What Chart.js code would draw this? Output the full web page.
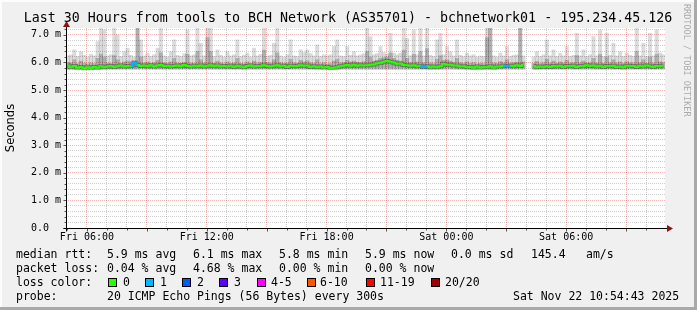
<!DOCTYPE html>
<html>
<head>
<meta charset="utf-8">
<script src="https://cdn.jsdelivr.net/npm/chart.js@4.4.1/dist/chart.umd.min.js"></script>
<style>
  html, body { margin: 0; padding: 0; background: #f0f0f0; }
  #wrap { position: relative; width: 697px; height: 310px; }
</style>
</head>
<body>
<div id="wrap"><canvas id="smoke"></canvas></div>
<script>
// one slot every 10 minutes, x is hours since Fri 00:00
const START_HOUR = 4.95;
const SLOT_HOURS = 1 / 6;

// median rtt per slot (ms)
const medianRtt = [
  5.89, 5.83, 5.87, 5.81, 5.84, 5.79, 5.83, 5.80, 5.84, 5.81,
  5.86, 5.83, 5.85, 5.87, 5.84, 5.86, 5.89, 5.85, 5.87, 5.86,
  5.99, 5.91, 5.87, 5.89, 5.86, 5.90, 5.85, 5.89, 5.91, 5.86,
  5.88, 5.85, 5.87, 5.89, 5.86, 5.91, 5.87, 5.85, 5.88, 5.86,
  5.89, 5.85, 5.88, 5.90, 5.86, 5.89, 5.85, 5.87, 5.85, 5.88,
  5.84, 5.88, 5.85, 5.83, 5.87, 5.89, 5.85, 5.87, 5.86, 5.90,
  5.87, 5.85, 5.88, 5.90, 5.86, 5.88, 5.84, 5.88, 5.86, 5.87,
  5.90, 5.88, 5.89, 5.84, 5.86, 5.83, 5.85, 5.82, 5.84, 5.80,
  5.81, 5.83, 5.86, 5.88, 5.91, 5.88, 5.92, 5.88, 5.90, 5.89,
  5.90, 5.92, 5.93, 5.97, 5.99, 6.03, 6.05, 6.03, 6.00, 5.95,
  5.96, 5.91, 5.90, 5.88, 5.90, 5.86, 5.88, 5.84, 5.86, 5.83,
  5.85, 5.83, 5.86, 5.95, 5.92, 5.92, 5.89, 5.89, 5.85, 5.86,
  5.83, 5.84, 5.81, 5.85, 5.82, 5.84, 5.83, 5.86, 5.82, 5.85,
  5.85, 5.88, 5.87, 5.88, 5.86, 5.90, 5.87, 5.92, null, null,
  5.87, 5.83, 5.85, 5.84, 5.86, 5.84, 5.87, 5.85, 5.88, 5.84,
  5.87, 5.86, 5.88, 5.84, 5.87, 5.86, 5.90, 5.87, 5.89, 5.85,
  5.88, 5.84, 5.87, 5.86, 5.88, 5.84, 5.85, 5.83, 5.88, 5.86,
  5.87, 5.84, 5.88, 5.85, 5.89, 5.86, 5.84, 5.87, 5.86, 5.88
];

// highest ping per slot (light smoke top)
const smokeMax = [
  6.24, 6.28, 6.46, 6.22, 6.39, 6.26, 6.20, 6.30, 6.24, 6.76,
  7.24, 7.18, 6.24, 6.28, 7.24, 7.00, 6.22, 6.39, 6.52, 6.26,
  6.20, 7.25, 6.82, 6.24, 6.34, 6.22, 6.28, 6.52, 7.24, 6.24,
  6.20, 6.39, 6.82, 6.26, 6.22, 6.32, 7.18, 6.24, 6.28, 7.24,
  6.70, 6.24, 7.25, 7.25, 6.22, 6.46, 6.26, 6.20, 6.39, 6.24,
  6.28, 6.82, 6.22, 6.26, 6.34, 6.20, 6.52, 6.24, 6.30, 7.25,
  6.22, 6.26, 6.70, 7.25, 6.24, 6.20, 6.28, 6.82, 6.24, 6.22,
  6.46, 6.36, 6.46, 6.32, 6.24, 6.64, 6.22, 6.28, 6.24, 6.28,
  6.58, 6.82, 6.24, 6.22, 6.58, 6.26, 6.39, 6.24, 6.28, 6.32,
  7.24, 6.94, 6.28, 6.32, 6.58, 6.36, 6.30, 7.06, 6.34, 6.28,
  6.34, 7.24, 6.88, 6.24, 7.18, 6.28, 7.24, 6.24, 7.24, 6.26,
  6.22, 6.82, 7.06, 6.28, 6.58, 6.39, 6.24, 6.82, 6.26, 6.22,
  6.34, 6.24, 6.28, 6.20, 6.24, 6.22, 7.24, 7.24, 6.24, 6.20,
  6.34, 6.24, 6.58, 6.22, 6.26, 6.28, 7.30, 6.24, null, null,
  6.20, 6.39, 6.22, 6.28, 6.82, 6.24, 6.46, 6.22, 6.34, 6.24,
  6.58, 6.22, 6.26, 7.06, 6.24, 6.46, 6.22, 6.28, 6.94, 6.24,
  7.18, 6.22, 7.06, 6.26, 6.70, 6.24, 6.39, 6.22, 6.34, 6.26,
  6.22, 7.24, 6.24, 6.70, 6.22, 7.06, 6.24, 7.18, 6.34, 6.28
];

// top of the denser (darker) smoke per slot
const smokeMid = [
  6.00, 5.98, 6.10, 5.96, 6.05, 5.97, 5.95, 5.98, 5.96, 6.15,
  6.30, 6.20, 5.98, 5.97, 6.25, 6.10, 5.97, 6.02, 6.05, 5.98,
  6.06, 7.25, 6.20, 5.98, 6.02, 5.97, 5.99, 6.08, 6.35, 5.99,
  5.97, 6.02, 6.15, 5.98, 5.97, 6.00, 6.30, 5.98, 5.97, 6.40,
  6.10, 5.98, 6.90, 6.40, 5.97, 6.05, 5.98, 5.96, 6.02, 5.97,
  5.98, 6.15, 5.97, 5.96, 6.02, 5.97, 6.05, 5.98, 6.00, 6.45,
  6.00, 5.98, 6.10, 6.35, 5.99, 5.97, 5.98, 6.12, 5.99, 5.97,
  6.08, 6.02, 6.06, 5.99, 5.97, 6.10, 5.96, 5.99, 5.95, 5.96,
  6.05, 6.12, 5.98, 6.00, 6.08, 6.02, 6.05, 6.01, 6.00, 6.03,
  6.40, 6.20, 6.05, 6.08, 6.15, 6.18, 6.20, 6.35, 6.15, 6.08,
  6.05, 6.45, 6.15, 6.00, 6.30, 6.02, 6.40, 5.99, 6.50, 5.98,
  5.96, 6.12, 6.25, 6.08, 6.10, 6.05, 6.00, 6.15, 5.99, 5.97,
  6.02, 5.97, 5.99, 5.95, 5.97, 5.96, 6.90, 7.24, 5.98, 5.97,
  6.03, 5.99, 6.10, 5.98, 5.99, 6.01, 7.30, 6.02, null, null,
  5.97, 6.04, 5.96, 5.99, 6.12, 5.98, 6.05, 5.97, 6.02, 5.98,
  6.08, 5.98, 5.99, 6.25, 5.99, 6.05, 5.98, 5.99, 6.15, 5.98,
  6.30, 5.97, 6.20, 5.99, 6.10, 5.98, 6.02, 5.96, 6.03, 5.99,
  5.98, 6.40, 5.99, 6.10, 5.97, 6.20, 5.98, 6.30, 6.02, 6.00
];

const SMOKE_FLOOR = 5.74;
const SMOKE_MID_FLOOR = 5.79;

// slots where pings were lost, and how many of 20
const lossSlots = [20, 107, 132];
const lossPings = [1, 1, 1];

const xLabelHours = [6, 12, 18, 24, 30];
const xLabels = ['Fri 06:00', 'Fri 12:00', 'Fri 18:00', 'Sat 00:00', 'Sat 06:00'];
const yLabelValues = [0, 1, 2, 3, 4, 5, 6, 7];
const yLabels = ['0.0  ', '1.0 m', '2.0 m', '3.0 m', '4.0 m', '5.0 m', '6.0 m', '7.0 m'];

const lossNames = ['0', '1', '2', '3', '4-5', '6-10', '11-19', '20/20'];
const lossColors = ['#26ff00', '#00b8ff', '#0059ff', '#5e00ff', '#ff00ff', '#ff5500', '#ff0000', '#a10000'];

const statRows = [
  ['median rtt:', '5.9 ms avg', '6.1 ms max', '5.8 ms min', '5.9 ms now', '0.0 ms sd', '145.4', 'am/s'],
  ['packet loss:', '0.04 % avg', '4.68 % max', '0.00 % min', '0.00 % now']
];
const probeText = ['probe:', '20 ICMP Echo Pings (56 Bytes) every 300s', 'Sat Nov 22 10:54:43 2025'];
const titleText = 'Last 30 Hours from tools to BCH Network (AS35701) - bchnetwork01 - 195.234.45.126';

const MONO = '"DejaVu Sans Mono", "Liberation Mono", monospace';

function slotHour(i) {
  return START_HOUR + (i + 0.5) * SLOT_HOURS;
}

function lossAt(i) {
  const k = lossSlots.indexOf(i);
  return k >= 0 ? lossPings[k] : 0;
}

function lossColor(n) {
  if (n <= 0) return lossColors[0];
  if (n <= 3) return lossColors[n];
  if (n <= 5) return lossColors[4];
  if (n <= 10) return lossColors[5];
  if (n <= 19) return lossColors[6];
  return lossColors[7];
}

const medianPoints = medianRtt.map((v, i) => ({ x: slotHour(i), y: v }));
const lightSmoke = smokeMax.map((v, i) => ({ x: slotHour(i), y: v == null ? null : [SMOKE_FLOOR, v] }));
const midSmoke = smokeMid.map((v, i) => ({ x: slotHour(i), y: v == null ? null : [SMOKE_MID_FLOOR, v] }));

// grid positions: every hour / every 0.2 ms
const xGrid = [];
for (let h = 5; h <= 34; h++) xGrid.push(h);
const yGrid = [];
for (let k = 0; k <= 36; k++) yGrid.push(k / 5);

const MAJOR = 'rgba(230, 80, 80, 0.42)';
const MINOR = 'rgba(110, 110, 110, 0.32)';

function isWhole(v) {
  return Math.abs(v - Math.round(v)) < 1e-6;
}

// frame, title, axes with arrows, and the smokeping legend block
const rrdDecor = {
  id: 'rrdDecor',
  beforeDraw(chart) {
    const ctx = chart.ctx;
    const a = chart.chartArea;
    ctx.save();
    ctx.fillStyle = '#f0f0f0';
    ctx.fillRect(0, 0, 697, 310);
    ctx.fillStyle = '#fdfdfd';
    ctx.fillRect(0, 0, 697, 2);
    ctx.fillRect(0, 0, 2, 310);
    ctx.fillStyle = '#a9a9a9';
    ctx.fillRect(0, 307, 697, 3);
    ctx.fillRect(694, 0, 3, 310);
    ctx.fillStyle = '#ffffff';
    ctx.fillRect(a.left, a.top, a.right - a.left, a.bottom - a.top);
    ctx.restore();
  },
  afterDraw(chart) {
    const ctx = chart.ctx;
    const a = chart.chartArea;
    const xs = chart.scales.x;
    const ys = chart.scales.y;
    const x0 = Math.round(a.left) + 0.5;
    const y0 = Math.round(a.bottom) + 0.5;
    ctx.save();

    // tick marks
    ctx.strokeStyle = '#555';
    ctx.lineWidth = 1;
    ctx.beginPath();
    yGrid.forEach(v => {
      const y = Math.round(ys.getPixelForValue(v)) + 0.5;
      ctx.moveTo(x0 - (isWhole(v) ? 3 : 2), y);
      ctx.lineTo(x0, y);
    });
    xGrid.forEach(h => {
      const x = Math.round(xs.getPixelForValue(h)) + 0.5;
      ctx.moveTo(x, y0);
      ctx.lineTo(x, y0 + (h % 3 === 0 ? 3 : 2));
    });
    ctx.stroke();

    // axes
    ctx.strokeStyle = '#000';
    ctx.beginPath();
    ctx.moveTo(x0 - 3, y0);
    ctx.lineTo(a.right + 5, y0);
    ctx.moveTo(x0, y0 + 3);
    ctx.lineTo(x0, a.top - 4);
    ctx.stroke();

    // arrows
    ctx.fillStyle = '#8c1414';
    ctx.beginPath();
    ctx.moveTo(a.right + 8, y0);
    ctx.lineTo(a.right + 2, y0 - 3.5);
    ctx.lineTo(a.right + 2, y0 + 3.5);
    ctx.closePath();
    ctx.fill();
    ctx.beginPath();
    ctx.moveTo(x0, a.top - 7);
    ctx.lineTo(x0 - 3.5, a.top - 1);
    ctx.lineTo(x0 + 3.5, a.top - 1);
    ctx.closePath();
    ctx.fill();

    // title
    ctx.fillStyle = '#000';
    ctx.font = '13.3px ' + MONO;
    ctx.textAlign = 'center';
    ctx.textBaseline = 'middle';
    ctx.fillText(titleText, 348, 19);

    // legend block
    ctx.font = '11.5px ' + MONO;
    ctx.textAlign = 'left';
    ctx.textBaseline = 'alphabetic';
    const colX = [16, 107, 193, 279, 365, 451, 531, 586];
    statRows.forEach((row, r) => {
      row.forEach((t, c) => ctx.fillText(t, colX[c], 258 + r * 14));
    });
    ctx.fillText('loss color:', 16, 286);
    const swX = [108, 145, 182, 219, 257, 307, 366, 431];
    const swTextX = [123, 160, 197, 234, 271, 320, 380, 445];
    lossNames.forEach((name, k) => {
      ctx.fillStyle = lossColors[k];
      ctx.fillRect(swX[k], 278, 9, 9);
      ctx.strokeStyle = '#000';
      ctx.strokeRect(swX[k] + 0.5, 278.5, 8, 8);
      ctx.fillStyle = '#000';
      ctx.fillText(name, swTextX[k], 286);
    });
    ctx.fillText(probeText[0], 16, 300);
    ctx.fillText(probeText[1], 107, 300);
    ctx.fillText(probeText[2], 513, 300);

    // vertical credit on the right
    ctx.translate(686, 4);
    ctx.rotate(Math.PI / 2);
    ctx.fillStyle = '#ababab';
    ctx.font = '8.5px ' + MONO;
    ctx.textBaseline = 'middle';
    ctx.fillText('RRDTOOL / TOBI OETIKER', 0, 0);
    ctx.restore();
  }
};

new Chart(document.getElementById('smoke'), {
  type: 'bar',
  data: {
    datasets: [
      {
        type: 'line',
        label: 'median',
        data: medianPoints,
        order: 0,
        stepped: 'middle',
        borderWidth: 2,
        borderColor: lossColors[0],
        pointRadius: 0,
        spanGaps: false,
        segment: {
          borderColor: c => lossColor(Math.max(lossAt(c.p0DataIndex), lossAt(c.p1DataIndex)))
        }
      },
      {
        type: 'line',
        label: 'median shade',
        data: medianPoints,
        order: 1,
        stepped: 'middle',
        borderWidth: 4,
        borderColor: 'rgba(0, 0, 0, 0.3)',
        pointRadius: 0,
        spanGaps: false
      },
      {
        label: 'smoke dense',
        data: midSmoke,
        order: 2,
        backgroundColor: 'rgba(0, 0, 0, 0.2)',
        borderWidth: 0,
        grouped: false,
        barPercentage: 1,
        categoryPercentage: 1
      },
      {
        label: 'smoke',
        data: lightSmoke,
        order: 3,
        backgroundColor: 'rgba(0, 0, 0, 0.14)',
        borderWidth: 0,
        grouped: false,
        barPercentage: 1,
        categoryPercentage: 1
      }
    ]
  },
  options: {
    responsive: true,
    maintainAspectRatio: false,
    animation: false,
    events: [],
    layout: { padding: { left: 0, top: 28, right: 32, bottom: 60 } },
    plugins: {
      legend: { display: false },
      tooltip: { enabled: false },
      title: { display: false }
    },
    scales: {
      x: {
        type: 'linear',
        min: START_HOUR,
        max: START_HOUR + 180 * SLOT_HOURS,
        offset: false,
        afterBuildTicks: s => { s.ticks = xGrid.map(v => ({ value: v })); },
        afterFit: s => { s.height = 22; },
        grid: {
          offset: false,
          drawTicks: false,
          lineWidth: 1,
          color: c => (c.tick && c.tick.value % 3 === 0 ? MAJOR : MINOR)
        },
        border: { display: false, dash: [1, 1] },
        ticks: {
          autoSkip: false,
          maxRotation: 0,
          padding: 3,
          color: '#000',
          font: { family: MONO, size: 10 },
          callback: v => {
            const k = xLabelHours.indexOf(v);
            return k >= 0 ? xLabels[k] : '';
          }
        }
      },
      y: {
        type: 'linear',
        min: 0,
        max: 7.25,
        afterBuildTicks: s => { s.ticks = yGrid.map(v => ({ value: v })); },
        afterFit: s => { s.width = 66; },
        grid: {
          drawTicks: false,
          lineWidth: 1,
          color: c => (c.tick && isWhole(c.tick.value) ? MAJOR : MINOR)
        },
        border: { display: false, dash: [1, 1] },
        title: {
          display: true,
          text: 'Seconds',
          color: '#000',
          padding: { top: 4, bottom: 0 },
          font: { family: '"DejaVu Sans", sans-serif', size: 11.5 }
        },
        ticks: {
          autoSkip: false,
          padding: 5,
          color: '#000',
          font: { family: MONO, size: 10 },
          callback: v => {
            const k = yLabelValues.findIndex(t => Math.abs(t - v) < 1e-6);
            return k >= 0 ? yLabels[k] : '';
          }
        }
      }
    }
  },
  plugins: [rrdDecor]
});
</script>
</body>
</html>
